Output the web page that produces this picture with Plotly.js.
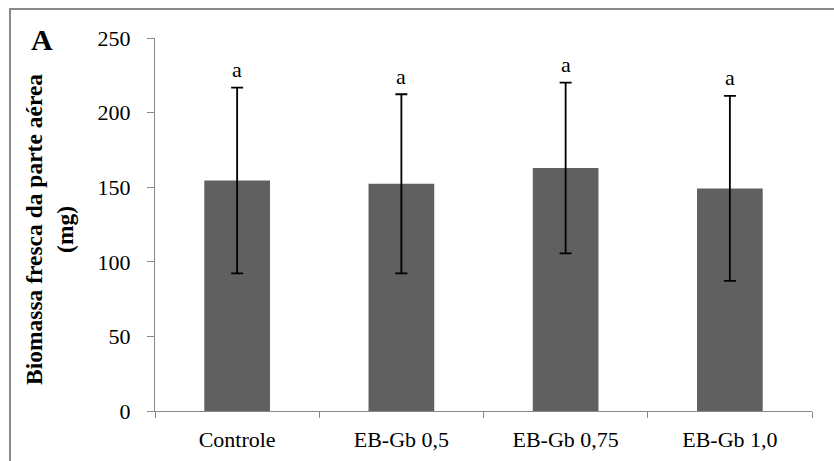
<!DOCTYPE html>
<html>
<head>
<meta charset="utf-8">
<script src="https://cdn.plot.ly/plotly-3.0.1.min.js"></script>
<style>
html,body{margin:0;padding:0;background:#fff;}
#chart{width:834px;height:461px;}
</style>
</head>
<body>
<div id="chart"></div>
<script>
// Data
const categories = ["Controle", "EB-Gb 0,5", "EB-Gb 0,75", "EB-Gb 1,0"];
const biomass = [154.5, 152.3, 162.9, 149.2];
const errors = [62.3, 60.0, 57.2, 62.0];
const letters = ["a", "a", "a", "a"];
const yTitle = "Biomassa fresca da parte aérea<br>(mg)";
const panelLabel = "A";

const FONT = '"Liberation Serif", "Times New Roman", Times, serif';

const L = 155, R = 22, T = 38, B = 50;
const W = 834 - L - R, H = 461 - T - B;
function px2paperX(px){ return (px - L) / W; }
function px2paperY(py){ return (461 - B - py) / H; }

const trace = {
  type: "bar",
  x: categories,
  y: biomass,
  marker: {color: "#606060", line: {width: 0}},
  error_y: {type: "data", array: errors, visible: true, color: "#000000", thickness: 1.8, width: 6},
  hoverinfo: "skip"
};

const annotations = categories.map((c, i) => ({
  x: c, y: biomass[i] + errors[i], xref: "x", yref: "y",
  text: letters[i], showarrow: false, yanchor: "middle", yshift: 18,
  font: {family: FONT, size: 22, color: "#000"}
}));
annotations.push({
  x: px2paperX(42), y: px2paperY(39), xref: "paper", yref: "paper", text: "<b>" + panelLabel + "</b>",
  showarrow: false, xanchor: "center", yanchor: "middle",
  font: {family: FONT, size: 30, color: "#000"}
});
annotations.push({
  x: px2paperX(49), y: px2paperY(230), xref: "paper", yref: "paper",
  text: "<b>" + yTitle + "</b>", textangle: -90,
  showarrow: false, xanchor: "center", yanchor: "middle",
  font: {family: FONT, size: 23.5, color: "#000"}
});

const layout = {
  width: 834, height: 461,
  margin: {l: L, r: R, t: T, b: B},
  paper_bgcolor: "#ffffff", plot_bgcolor: "#ffffff",
  bargap: 0.6,
  showlegend: false,
  font: {family: FONT, size: 22, color: "#000"},
  xaxis: {
    type: "category",
    showline: true, linecolor: "#888888", linewidth: 1,
    ticks: "outside", tickson: "boundaries", ticklen: 6, tickcolor: "#888888", tickwidth: 1,
    showgrid: false, zeroline: false,
    tickfont: {family: FONT, size: 22, color: "#000"},
    ticklabelstandoff: 9
  },
  yaxis: {
    range: [0, 250], dtick: 50, tick0: 0,
    showline: true, linecolor: "#888888", linewidth: 1,
    ticks: "outside", ticklen: 7, tickcolor: "#888888", tickwidth: 1,
    showgrid: false, zeroline: false,
    tickfont: {family: FONT, size: 22, color: "#000"},
    ticklabelstandoff: 12
  },
  annotations: annotations,
  shapes: [{
    type: "path", xref: "paper", yref: "paper",
    path: "M " + px2paperX(10) + "," + px2paperY(470) + " L " + px2paperX(10) + "," + px2paperY(9) + " L " + px2paperX(840) + "," + px2paperY(9),
    line: {color: "#8a8a8a", width: 2}
  }]
};

Plotly.newPlot("chart", [trace], layout, {staticPlot: true, displayModeBar: false});
</script>
</body>
</html>
